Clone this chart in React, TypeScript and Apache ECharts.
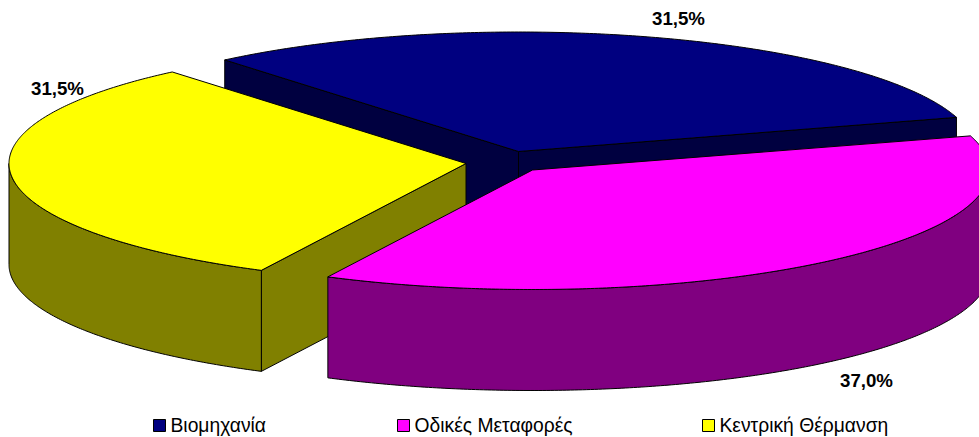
import React, { useEffect, useRef } from "react";
import * as echarts from "echarts";

const categories = ["Βιομηχανία", "Οδικές Μεταφορές", "Κεντρική Θέρμανση"];
const shares = [31.5, 37.0, 31.5];
const valueLabels = ["31,5%", "37,0%", "31,5%"];

const topColors = ["#000080", "#FF00FF", "#FFFF00"];
const wallColors = ["#000040", "#800080", "#808000"];
const apexes = [[518.5, 151.5], [532.5, 170], [466, 163.5]];
const labelAnchors = [[678.5, 18], [866.5, 380], [57.5, 88]];
const legendLefts = [153, 397, 702];
const drawOrder = [0, 2, 1];

const RX = 457;
const RY = 119.5;
const DEPTH = 101;
const START_DEG = -40;
const FONT = '"Liberation Sans", Arial, sans-serif';

const total = shares.reduce((a, b) => a + b, 0);

function rim(c: number[], deg: number, drop = 0) {
  const r = (deg * Math.PI) / 180;
  return [c[0] + RX * Math.sin(r), c[1] - RY * Math.cos(r) + drop];
}

function arcPoints(c: number[], from: number, to: number, drop = 0) {
  const pts: number[][] = [];
  const n = Math.max(2, Math.ceil(Math.abs(to - from) * 2));
  for (let i = 0; i <= n; i++) pts.push(rim(c, from + ((to - from) * i) / n, drop));
  return pts;
}

function slicePieces(idx: number) {
  const before = shares.slice(0, idx).reduce((a, b) => a + b, 0);
  const a0 = START_DEG + (before / total) * 360;
  const a1 = a0 + (shares[idx] / total) * 360;
  const c = apexes[idx];
  const line = { stroke: "#000", lineWidth: 1, lineJoin: "round" };
  const wall = wallColors[idx];
  const children: any[] = [];
  const mid = rim(c, (a0 + a1) / 2);

  // Flat cut faces, drawn only when they face the viewer
  const faces = [a0, a1]
    .map((deg) => {
      const p = rim(c, deg);
      const ex = p[0] - c[0];
      const ey = p[1] - c[1];
      const crossDown = ex;
      const crossIn = ex * (mid[1] - c[1]) - ey * (mid[0] - c[0]);
      return { p, visible: crossDown * crossIn < 0 };
    })
    .filter((f) => f.visible);
  faces.forEach(({ p }) => {
    children.push({
      type: "polygon",
      shape: { points: [c, p, [p[0], p[1] + DEPTH], [c[0], c[1] + DEPTH]] },
      style: { fill: wall, ...line },
    });
  });

  // Front-facing part of the rim
  const wFrom = Math.max(a0, 90);
  const wTo = Math.min(a1, 270);
  if (wTo > wFrom) {
    const topEdge = arcPoints(c, wFrom, wTo);
    const bottomEdge = arcPoints(c, wFrom, wTo, DEPTH).reverse();
    children.push({
      type: "polygon",
      shape: { points: [...topEdge, ...bottomEdge] },
      style: { fill: wall, ...line },
    });
  }

  // Top face
  children.push({
    type: "polygon",
    shape: { points: [c, ...arcPoints(c, a0, a1)] },
    style: { fill: topColors[idx], ...line },
  });

  // Value label
  children.push({
    type: "text",
    x: labelAnchors[idx][0],
    y: labelAnchors[idx][1],
    style: {
      text: valueLabels[idx],
      font: `bold 18.7px ${FONT}`,
      fill: "#000",
      align: "center",
      verticalAlign: "middle",
    },
  });
  return { type: "group", children };
}

export default function App() {
  const ref = useRef<HTMLDivElement>(null);
  useEffect(() => {
    document.body.style.margin = "0";
    const chart = echarts.init(ref.current!, undefined, { renderer: "svg" });
    chart.setOption({
      animation: false,
      backgroundColor: "#fff",
      legend: categories.map((name, i) => ({
        data: [name],
        left: legendLefts[i],
        top: 416,
        padding: 0,
        itemWidth: 12,
        itemHeight: 12,
        icon: "rect",
        itemStyle: { borderColor: "#000", borderWidth: 1 },
        textStyle: { fontFamily: FONT, fontSize: 19.3, color: "#000" },
      })),
      series: drawOrder.map((idx, order) => ({
        type: "custom",
        name: categories[idx],
        coordinateSystem: "none",
        z: 2 + order,
        silent: true,
        itemStyle: { color: topColors[idx] },
        data: [[shares[idx]]],
        renderItem: () => slicePieces(idx),
      })),
    });
    return () => chart.dispose();
  }, []);
  return <div ref={ref} style={{ width: 979, height: 437, overflow: "hidden" }} />;
}
